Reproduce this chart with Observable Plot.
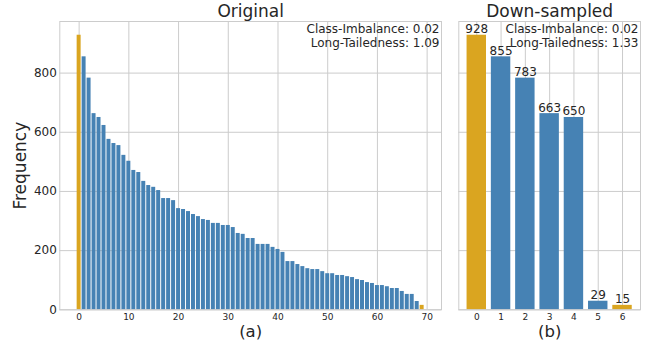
<!DOCTYPE html>
<html><head><meta charset="utf-8">
<script src="https://cdn.jsdelivr.net/npm/d3@7"></script>
<script src="https://cdn.jsdelivr.net/npm/@observablehq/plot@0.6"></script>
<style>
body{margin:0;background:#fff;}
#wrap{position:relative;width:664px;height:346px;font-family:"DejaVu Sans";}
#left,#right{position:absolute;top:0;}
#left{left:0px} #right{left:450px}
svg{overflow:visible}
</style></head><body><div id="wrap"><div id="left"></div><div id="right"></div></div>
<script>
// ---- data ----
const originalClasses = [0,1,2,3,4,5,6,7,8,9,10,11,12,13,14,15,16,17,18,19,20,21,22,23,24,25,26,27,28,29,30,31,32,33,34,35,36,37,38,39,40,41,42,43,44,45,46,47,48,49,50,51,52,53,54,55,56,57,58,59,60,61,62,63,64,65,66,67,68,69];
const originalCounts = [928,855,783,663,650,623,576,562,555,522,502,471,464,434,420,414,403,376,376,369,342,339,332,322,315,305,302,292,292,285,285,278,258,255,241,241,221,221,221,211,204,194,163,163,153,146,139,136,136,129,122,122,116,116,112,109,102,99,92,89,82,82,78,72,72,62,52,52,28,15];
const sampledClasses = [0,1,2,3,4,5,6];
const sampledCounts = [928,855,783,663,650,29,15];
const yTicks = [0,200,400,600,800];
const originalXTicks = [0,10,20,30,40,50,60,70];
const originalStats = "Class-Imbalance: 0.02\nLong-Tailedness: 1.09";
const sampledStats = "Class-Imbalance: 0.02\nLong-Tailedness: 1.33";

// ---- style ----
const GOLD = "#DAA520", BLUE = "#4682B4", GRID = "#cccccc", TEXT = "#262626";
const FONT = "DejaVu Sans";

function rows(classes, counts) {
  return classes.map((c, i) => ({c, v: counts[i], hi: i === 0 || i === classes.length - 1}));
}
function padDomain(classes) {
  const lo = classes[0] - 0.4, hi = classes[classes.length - 1] + 0.4, p = (hi - lo) * 0.05;
  return [lo - p, hi + p];
}
const yMax = d3.max(originalCounts) * 1.05;
const orig = rows(originalClasses, originalCounts);
const samp = rows(sampledClasses, sampledCounts);

const common = {
  height: 346, marginTop: 21, marginBottom: 36.7,
  style: {fontFamily: FONT, color: TEXT, background: "transparent", overflow: "visible"}
};

const left = Plot.plot({
  ...common,
  width: 450, marginLeft: 59.3, marginRight: 9,
  x: {domain: padDomain(originalClasses)},
  y: {domain: [0, yMax]},
  marks: [
    Plot.gridY(yTicks, {stroke: GRID, strokeOpacity: 1, strokeWidth: 1}),
    Plot.gridX(originalXTicks, {stroke: GRID, strokeOpacity: 1, strokeWidth: 1}),
    Plot.rect(orig, {x1: d => d.c - 0.4, x2: d => d.c + 0.4, y1: 0, y2: "v", fill: d => d.hi ? GOLD : BLUE}),
    Plot.frame({stroke: GRID}),
    Plot.axisY(yTicks, {tickSize: 0, tickPadding: 3, fontSize: 12, label: null, fill: TEXT}),
    Plot.axisX(originalXTicks, {tickSize: 0, tickPadding: 3.5, fontSize: 9, label: null, fill: TEXT}),
    Plot.text([originalStats], {frameAnchor: "top-right", dx: -2, dy: 1, fontSize: 12, lineHeight: 1.2, fill: TEXT}),
    Plot.text(["Original"], {frameAnchor: "top", lineAnchor: "bottom", dy: -4.3, fontSize: 17, fill: TEXT}),
    Plot.text(["(a)"], {frameAnchor: "bottom", lineAnchor: "bottom", dy: 27.5, fontSize: 16.5, fill: TEXT}),
    Plot.text(["Frequency"], {frameAnchor: "left", textAnchor: "middle", lineAnchor: "bottom", rotate: -90, dx: -34, fontSize: 17, fill: TEXT})
  ]
});
document.getElementById("left").append(left);

const right = Plot.plot({
  ...common,
  width: 214, marginLeft: 8.3, marginRight: 24,
  x: {domain: padDomain(sampledClasses)},
  y: {domain: [0, yMax], axis: null},
  marks: [
    Plot.gridY(yTicks, {stroke: GRID, strokeOpacity: 1, strokeWidth: 1}),
    Plot.gridX(sampledClasses, {stroke: GRID, strokeOpacity: 1, strokeWidth: 1}),
    Plot.rect(samp, {x1: d => d.c - 0.4, x2: d => d.c + 0.4, y1: 0, y2: "v", fill: d => d.hi ? GOLD : BLUE}),
    Plot.frame({stroke: GRID}),
    Plot.axisX(sampledClasses, {tickSize: 0, tickPadding: 3.5, fontSize: 9, label: null, fill: TEXT}),
    Plot.text(samp, {x: "c", y: "v", text: d => String(d.v), dy: -2, lineAnchor: "bottom", fontSize: 12, fill: TEXT}),
    Plot.text([sampledStats], {frameAnchor: "top-right", dx: -2, dy: 1, fontSize: 12, lineHeight: 1.2, fill: TEXT}),
    Plot.text(["Down-sampled"], {frameAnchor: "top", lineAnchor: "bottom", dy: -4.3, fontSize: 17, fill: TEXT}),
    Plot.text(["(b)"], {frameAnchor: "bottom", lineAnchor: "bottom", dy: 27.5, fontSize: 16.5, fill: TEXT})
  ]
});
document.getElementById("right").append(right);
</script>
</body></html>
